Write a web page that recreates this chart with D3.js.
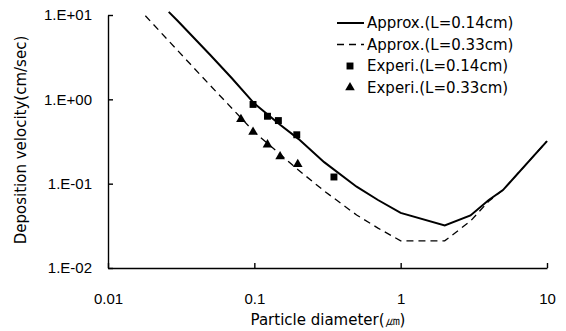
<!DOCTYPE html>
<html>
<head>
<meta charset="utf-8">
<script src="https://cdn.jsdelivr.net/npm/d3@7.9.0/dist/d3.min.js"></script>
<style>
  body { margin: 0; background: #fff; }
  svg { display: block; font-family: "DejaVu Sans", Verdana, sans-serif; }
  .axis path, .axis line { stroke: #000; stroke-width: 1.4; }
  .axis text { font-size: 15px; fill: #000; }
</style>
</head>
<body>
<svg id="chart" width="566" height="331"></svg>
<script>
// particle diameter (um) / deposition velocity (cm/sec)
const approxD14 = [0.026, 0.03, 0.05, 0.07, 0.1, 0.15, 0.2, 0.3, 0.5, 0.7, 1, 2, 3, 4, 5, 10];
const approxV14 = [10.9, 8.5, 3.36, 1.79, 0.89, 0.5, 0.34, 0.18, 0.092, 0.064, 0.045, 0.032, 0.042, 0.064, 0.084, 0.32];

const approxD33 = [0.018, 0.03, 0.05, 0.1, 0.2, 0.3, 0.5, 0.7, 1, 2, 3, 4, 5, 10];
const approxV33 = [9.8, 3.77, 1.46, 0.41, 0.145, 0.082, 0.0425, 0.0297, 0.021, 0.021, 0.036, 0.062, 0.084, 0.32];

const experD14 = [0.098, 0.123, 0.146, 0.195, 0.35];
const experV14 = [0.87, 0.63, 0.56, 0.38, 0.12];

const experD33 = [0.081, 0.098, 0.123, 0.15, 0.198];
const experV33 = [0.58, 0.41, 0.29, 0.21, 0.17];

const xTicks = [0.01, 0.1, 1, 10];
const xTickLabels = ['0.01', '0.1', '1', '10'];
const yTicks = [0.01, 0.1, 1, 10];
const yTickLabels = ['1.E-02', '1.E-01', '1.E+00', '1.E+01'];

const legendLabels = ['Approx.(L=0.14cm)', 'Approx.(L=0.33cm)', 'Experi.(L=0.14cm)', 'Experi.(L=0.33cm)'];

const svg = d3.select('#chart');

const x = d3.scaleLog().domain([0.01, 10]).range([108, 547]);
const y = d3.scaleLog().domain([0.01, 10]).range([268, 15]);

// axes
svg.append('g')
    .attr('class', 'axis')
    .attr('transform', 'translate(0,268)')
    .call(d3.axisBottom(x)
        .tickValues(xTicks)
        .tickFormat((d, i) => xTickLabels[i])
        .tickSizeInner(-5)
        .tickSizeOuter(0)
        .tickPadding(25));

svg.append('g')
    .attr('class', 'axis')
    .attr('transform', 'translate(108,0)')
    .call(d3.axisLeft(y)
        .tickValues(yTicks)
        .tickFormat((d, i) => yTickLabels[i])
        .tickSizeInner(-5)
        .tickSizeOuter(0)
        .tickPadding(16));

svg.selectAll('.axis .domain').attr('fill', 'none');

// axis titles
svg.append('text')
    .attr('x', 328)
    .attr('y', 325)
    .attr('text-anchor', 'middle')
    .style('font-size', '15px')
    .text('Particle diameter(㎛)');

svg.append('text')
    .attr('transform', 'translate(26,140) rotate(-90)')
    .attr('text-anchor', 'middle')
    .style('font-size', '15px')
    .text('Deposition velocity(cm/sec)');

// lines
const line = d3.line()
    .x(d => x(d[0]))
    .y(d => y(d[1]));

svg.append('path')
    .datum(d3.zip(approxD14, approxV14))
    .attr('d', line)
    .attr('fill', 'none')
    .attr('stroke', '#000')
    .attr('stroke-width', 2);

svg.append('path')
    .datum(d3.zip(approxD33, approxV33))
    .attr('d', line)
    .attr('fill', 'none')
    .attr('stroke', '#000')
    .attr('stroke-width', 1.3)
    .attr('stroke-dasharray', '7,5');

// markers
const square = d3.symbol().type(d3.symbolSquare).size(48);
const triangle = d3.symbol().type(d3.symbolTriangle).size(40);

svg.selectAll('.sq')
    .data(d3.zip(experD14, experV14))
    .join('path')
    .attr('class', 'sq')
    .attr('d', square)
    .attr('transform', d => `translate(${x(d[0])},${y(d[1])})`)
    .attr('fill', '#000');

svg.selectAll('.tri')
    .data(d3.zip(experD33, experV33))
    .join('path')
    .attr('class', 'tri')
    .attr('d', triangle)
    .attr('transform', d => `translate(${x(d[0])},${y(d[1])})`)
    .attr('fill', '#000');

// legend
const legend = svg.append('g').attr('transform', 'translate(337,23)');
legendLabels.forEach((label, i) => {
    let row = legend.append('g').attr('transform', `translate(0,${i * 21.5})`);
    if (i === 0) {
        row.append('line').attr('x1', 0).attr('x2', 27)
            .attr('stroke', '#000').attr('stroke-width', 2);
    } else if (i === 1) {
        row.append('line').attr('x1', 0).attr('x2', 27)
            .attr('stroke', '#000').attr('stroke-width', 1.3)
            .attr('stroke-dasharray', '7,5');
    } else if (i === 2) {
        row.append('path').attr('d', square).attr('transform', 'translate(13,0)');
    } else {
        row.append('path').attr('d', triangle).attr('transform', 'translate(13,0)');
    }
    row.append('text')
        .attr('x', 30)
        .attr('y', 5)
        .style('font-size', '15px')
        .text(label);
});
</script>
</body>
</html>
